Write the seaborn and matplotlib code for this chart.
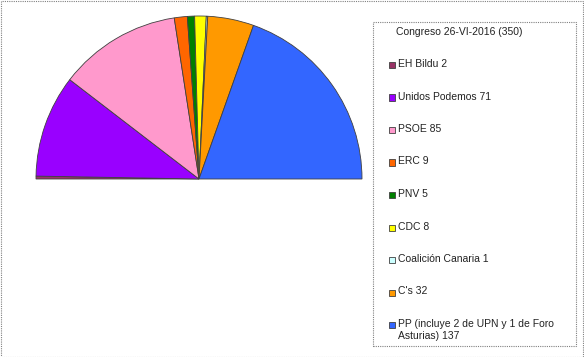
import matplotlib
matplotlib.use("Agg")
import matplotlib.pyplot as plt
import seaborn as sns
from matplotlib.patches import Rectangle

# Congreso 26-VI-2016 seat distribution
parties = ["EH Bildu", "Unidos Podemos", "PSOE", "ERC", "PNV", "CDC",
           "Coalición Canaria", "C's", "PP"]
seats = [2, 71, 85, 9, 5, 8, 1, 32, 137]
labels = ["EH Bildu 2", "Unidos Podemos 71", "PSOE 85", "ERC 9", "PNV 5",
          "CDC 8", "Coalición Canaria 1", "C's 32",
          "PP (incluye 2 de UPN y 1 de Foro\nAsturias) 137"]
colors = ["#993366", "#9900FF", "#FF99CC", "#FF6600", "#008000",
          "#FFFF00", "#CCFFFF", "#FF9900", "#3366FF"]
total_seats = 350
title = "Congreso 26-VI-2016 (350)"

sns.set_theme(style="white")
plt.rcParams['font.family'] = ['Liberation Sans', 'DejaVu Sans']

W, H = 584, 357
fig = plt.figure(figsize=(W / 100, H / 100), dpi=100)
fig.patch.set_facecolor("white")


def fx(px):
    return px / W


def fy(py):
    # pixel rows counted from the top
    return 1 - py / H


# square axes so the half circle sits at centre (199, 179), radius 163 px
cx, cy, r = 199, 179, 163
ax = fig.add_axes([fx(cx - r), fy(cy + r), 2 * r / W, 2 * r / H])

# invisible lower half so the visible wedges fill the top semicircle
vals = seats + [total_seats]
cols = colors + ["none"]
wedges, _ = ax.pie(vals, colors=cols, startangle=180, counterclock=False,
                   radius=1.0,
                   wedgeprops=dict(edgecolor="#404040", linewidth=0.6))
wedges[-1].set_edgecolor("none")
ax.set_xlim(-1, 1)
ax.set_ylim(-1, 1)
ax.axis("off")

# legend box drawn by hand to match the original layout
box_l, box_t, box_r, box_b = 373, 22, 576, 346
fig.patches.append(Rectangle((fx(box_l), fy(box_b)), fx(box_r - box_l),
                             (box_b - box_t) / H, transform=fig.transFigure,
                             fill=False, edgecolor="#808080", linewidth=0.8,
                             linestyle=(0, (1, 1))))
fs = 7.5
fig.text(fx(396), fy(32), title, fontsize=fs, color="#222222",
         ha="left", va="center")
row0, step, sq = 65, 32.5, 6
for i, (lab, col) in enumerate(zip(labels, colors)):
    yc = row0 + i * step
    fig.patches.append(Rectangle((fx(389), fy(yc + sq / 2)), sq / W, sq / H,
                                 transform=fig.transFigure, facecolor=col,
                                 edgecolor="#404040", linewidth=0.6))
    fig.text(fx(398), fy(yc - 6), lab, fontsize=fs, color="#222222",
             ha="left", va="top", linespacing=1.25)

# dotted outer border of the whole chart area
fig.patches.append(Rectangle((0.5 / W, 0.5 / H), 1 - 1.5 / W, 1 - 1.5 / H,
                             transform=fig.transFigure, fill=False,
                             edgecolor="#808080", linewidth=0.8,
                             linestyle=(0, (1, 1))))

fig.savefig("out.png", dpi=100)
